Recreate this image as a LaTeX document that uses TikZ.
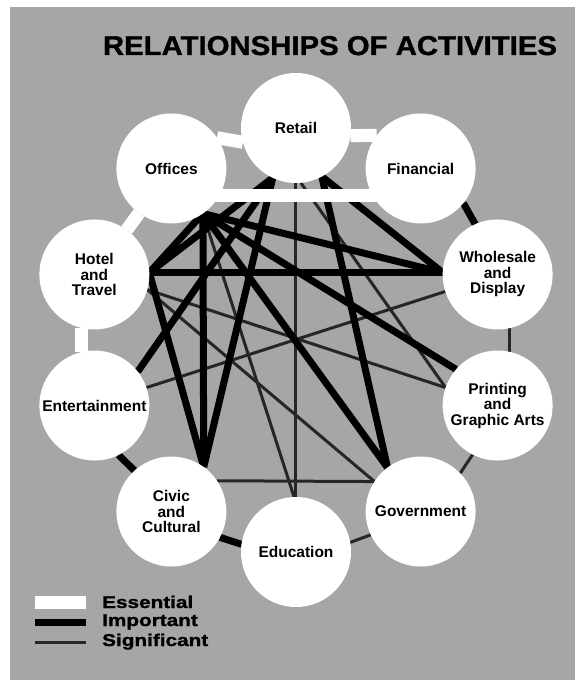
\documentclass[tikz,border=0pt]{standalone}
\usepackage{fontspec}
\setmainfont{Liberation Sans}
\newfontfamily\heavyfont{Liberation Sans}[BoldFeatures={FakeBold=1.2}]
\usepackage{graphicx}
\usetikzlibrary{backgrounds}
\definecolor{paper}{gray}{0.65}

\begin{document}
\begin{tikzpicture}[x=1pt, y=1pt,
    activity/.style={circle, fill=white, minimum size=110pt, inner sep=0pt, outer sep=0pt,
      align=center, font=\fontsize{15.5}{15.5}\selectfont\bfseries},
    essential/.style={white, line width=13pt},
    important/.style={black, line width=7pt},
    significant/.style={black!85, line width=3pt},
    keytext/.style={anchor=base west, inner sep=0pt, font=\heavyfont\fontsize{17}{17}\selectfont\bfseries}]

  \useasboundingbox (-296,-348) rectangle (279,340);

  \node[anchor=base, inner sep=0pt] (title) at (34,285)
    {\resizebox{454pt}{19pt}{\heavyfont\bfseries RELATIONSHIPS OF ACTIVITIES}};

  \path (0,0) ++(90:212) node[activity] (ret) {Retail};
  \path (0,0) ++(126:212) node[activity] (off) {Offices};
  \path (0,0) ++(54:212) node[activity] (fin) {Financial};
  \path (0,0) ++(162:212) node[activity] (hot) {Hotel\\and\\Travel};
  \path (0,0) ++(18:212) node[activity] (who) {Wholesale\\and\\Display};
  \path (0,0) ++(198:212) node[activity] (ent) {Entertainment};
  \path (0,0) ++(-18:212) node[activity] (pri) {Printing\\and\\Graphic Arts};
  \path (0,0) ++(234:212) node[activity] (civ) {Civic\\and\\Cultural};
  \path (0,0) ++(-54:212) node[activity] (gov) {Government};
  \path (0,0) ++(270:212) node[activity] (edu) {Education};

  \begin{pgfonlayer}{background}
    \fill[paper] (-286,-340) rectangle (279,333);

    \draw[significant] (ret.-90) -- (edu.90);
    \draw[significant] (ret.-85) -- (pri.161);
    \draw[significant] (hot.-16) -- (pri.161);
    \draw[significant] (hot.-16) -- (gov.147);
    \draw[significant] (ent.19) -- (who.198);
    \draw[significant] (off.-55) -- (edu.92);
    \draw[significant] (civ.34) -- (gov.147);
    \draw[significant] (who.-78) -- (pri.78);
    \draw[significant] (pri.-117) -- (gov.44);
    \draw[significant] (gov.205) -- (edu.10);

    \draw[important] (off.-55) -- (hot.2);
    \draw[important] (off.-55) -- (civ.54);
    \draw[important] (off.-55) -- (gov.127);
    \draw[important] (off.-55) -- (pri.139);
    \draw[important] (off.-55) -- (who.178);
    \draw[important] (ret.-115) -- (hot.2);
    \draw[important] (ret.-115) -- (ent.38);
    \draw[important] (ret.-115) -- (civ.54);
    \draw[important] (ret.-62) -- (gov.127);
    \draw[important] (ret.-62) -- (who.178);
    \draw[important] (hot.2) -- (who.178);
    \draw[important] (hot.2) -- (civ.54);
    \draw[important] (fin.-39) -- (who.114);
    \draw[important] (ent.-64) -- (civ.132);
    \draw[important] (civ.-28) -- (edu.172);

    \draw[essential] (off.34) -- (ret.195);
    \draw[essential] (ret.-8) -- (fin.143);
    \draw[essential] ([yshift=-27pt]off.center) -- ([yshift=-27pt]fin.center);
    \draw[essential] (off) -- (hot);
    \draw[essential] (hot.-104) -- (ent.104);
  \end{pgfonlayer}

  \draw[essential] (-261,-262) -- (-210,-262);
  \draw[important] (-261,-282.5) -- (-210,-282.5);
  \draw[significant] (-261,-302.5) -- (-210,-302.5);
  \node[keytext] (keyess) at (-194,-268) {\scalebox{1.22}[1]{Essential}};
  \node[keytext] (keyimp) at (-194,-286) {\scalebox{1.22}[1]{Important}};
  \node[keytext] (keysig) at (-194,-306) {\scalebox{1.22}[1]{Significant}};
\end{tikzpicture}
\end{document}
